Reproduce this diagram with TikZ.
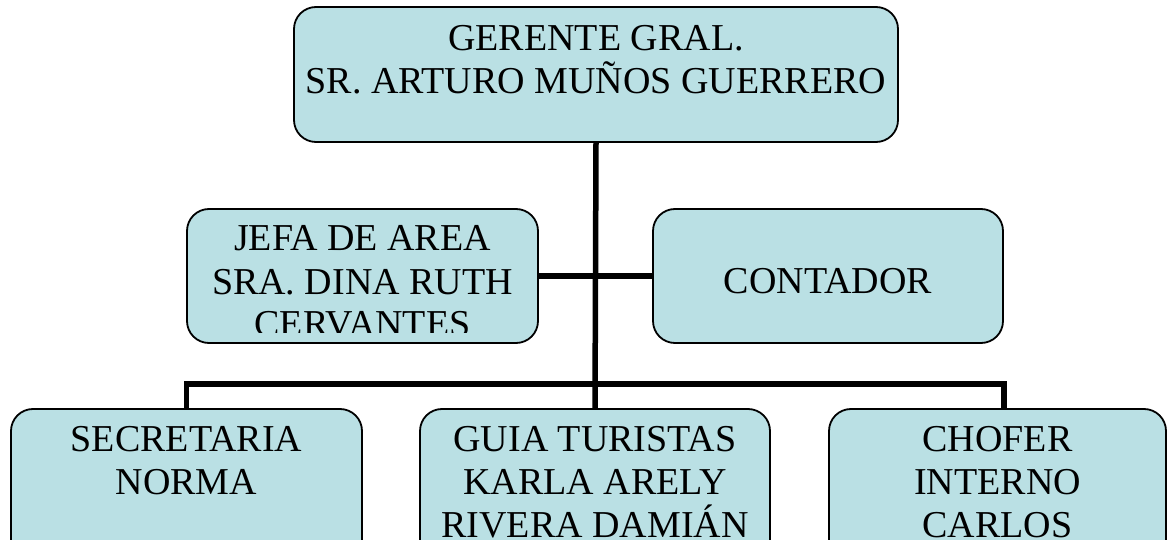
\documentclass[tikz,border=0pt]{standalone}
\usepackage{fontspec}
\setmainfont{Liberation Serif}
\definecolor{boxfill}{RGB}{186,224,228}
\tikzset{
  orgbox/.style={draw=black, line width=1.8pt, fill=boxfill, rounded corners=22pt, inner sep=0pt},
  orgtext/.style={align=center, anchor=base, inner sep=0pt, font={\fontsize{38}{43}\selectfont}},
  conn/.style={draw=black, line width=5.5pt}
}
\begin{document}
\begin{tikzpicture}[x=1pt, y=-1pt]
\useasboundingbox (0,0) rectangle (1171,540);
% boxes
\node[orgbox, minimum width=604pt, minimum height=135pt] (top) at (596,74.5) {};
\node[orgbox, minimum width=351pt, minimum height=134pt] (jefa) at (362.5,276) {};
\node[orgbox, minimum width=350pt, minimum height=134pt] (cont) at (828,276) {};
\node[orgbox, minimum width=351pt, minimum height=160pt] (secre) at (186.5,489) {};
\node[orgbox, minimum width=350pt, minimum height=160pt] (guia) at (595,489) {};
\node[orgbox, minimum width=337pt, minimum height=160pt] (chofer) at (997.5,489) {};
% connectors
\coordinate (barR) at (1004,384);
\draw[conn] (top.south) -- (guia.north);
\draw[conn] (jefa.east) -- (cont.west);
\draw[conn] (secre.north) |- (barR) -- (barR |- chofer.north);
% texts (anchor=base is the baseline of the last line)
\node[orgtext] (topT) at (596,94) {GERENTE GRAL.\\SR. ARTURO MUÑOS GUERRERO};
\begin{scope}
\clip (180,200) rectangle (545,333);
\node[orgtext] (jefaT) at (362.5,337) {JEFA DE AREA\\SRA. DINA RUTH\\CERVANTES};
\end{scope}
\node[orgtext] (contT) at (828,294) {CONTADOR};
\node[orgtext] (secreT) at (186.5,494) {SECRETARIA\\NORMA};
\node[orgtext] (guiaT) at (595,537) {GUIA TURISTAS\\KARLA ARELY\\RIVERA DAMIÁN};
\node[orgtext] (choferT) at (997.5,537) {CHOFER\\INTERNO\\CARLOS};
\end{tikzpicture}
\end{document}
